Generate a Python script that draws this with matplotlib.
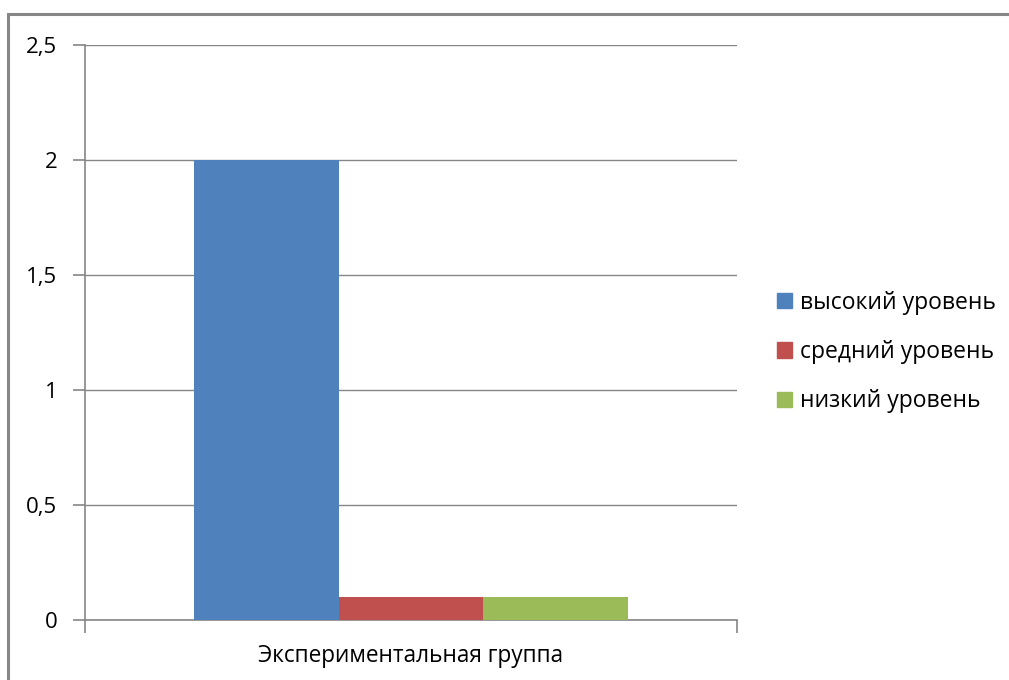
import matplotlib.pyplot as plt
import matplotlib.patches as mpatches
import numpy as np

plt.rcParams['font.family'] = ['Open Sans', 'DejaVu Sans']

# Chart data
categories = ['Экспериментальная группа']
series_names = ['высокий уровень', 'средний уровень', 'низкий уровень']
series_values = [[2.0], [0.1], [0.1]]
colors = ['#4f81bd', '#c0504d', '#9bbb59']
y_ticks = [0, 0.5, 1, 1.5, 2, 2.5]
y_labels = ['0', '0,5', '1', '1,5', '2', '2,5']

fig = plt.figure(figsize=(10.09, 6.8), dpi=100)
ax = fig.add_axes([85 / 1009, 60 / 680, 652 / 1009, 575 / 680])

grid_color = '#868686'
bar_w = 0.222
offsets = [-bar_w, 0, bar_w]
x = np.arange(len(categories)) + 0.5
for vals, off, col in zip(series_values, offsets, colors):
    ax.bar(x + off, vals, width=bar_w, color=col, zorder=3)

ax.set_xlim(0, len(categories))
ax.set_ylim(0, 2.5)
ax.set_yticks(y_ticks)
ax.set_yticklabels(y_labels, fontsize=16)
ax.yaxis.grid(True, color=grid_color, linewidth=1.0, zorder=0)

# category boundaries carry the x tick marks, labels sit in the middle
ax.set_xticks(np.arange(len(categories) + 1))
ax.set_xticklabels([''] * (len(categories) + 1))
ax.set_xticks(x, minor=True)
ax.set_xticklabels(categories, minor=True, fontsize=16.3)
ax.tick_params(axis='x', which='minor', length=0, pad=17)
ax.tick_params(axis='x', which='major', length=9, color=grid_color, width=1.2)
ax.tick_params(axis='y', length=9, color=grid_color, width=1.2, pad=11)

for side in ['top', 'right']:
    ax.spines[side].set_visible(False)
for side in ['left', 'bottom']:
    ax.spines[side].set_color(grid_color)
    ax.spines[side].set_linewidth(1.2)

handles = [mpatches.Patch(color=c, label=n) for c, n in zip(colors, series_names)]
fig.legend(handles=handles, loc='center left', bbox_to_anchor=(756 / 1009, 1 - 352 / 680),
           frameon=False, fontsize=16.5, handlelength=0.65, handleheight=0.65,
           handletextpad=0.35, labelspacing=1.1)

# outer frame of the chart area
frame = mpatches.Rectangle((8 / 1009, -0.05), 1.05, 1 - 14 / 680 + 0.05,
                           transform=fig.transFigure, fill=False,
                           edgecolor='#878787', linewidth=2.2)
fig.patches.append(frame)

fig.savefig('out.png', dpi=100)
